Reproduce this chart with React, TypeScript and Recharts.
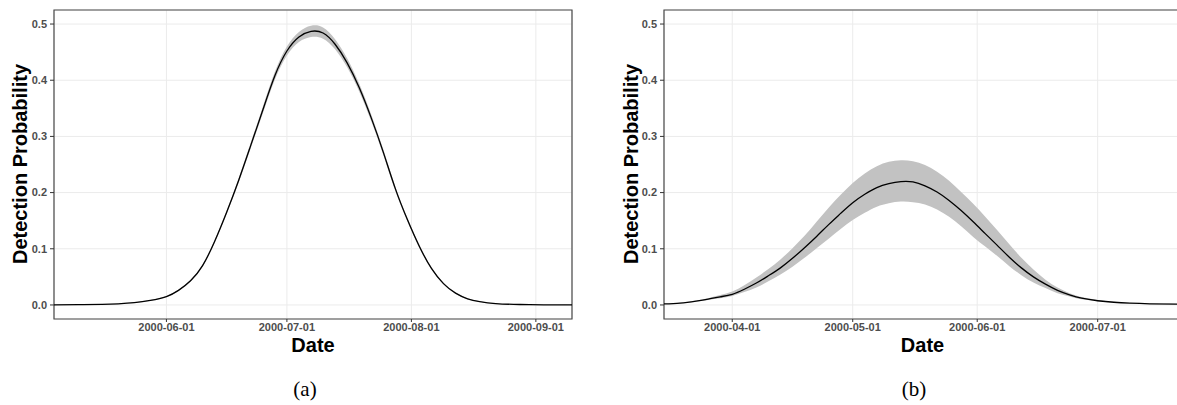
import {
  ComposedChart,
  Area,
  Line,
  XAxis,
  YAxis,
  CartesianGrid,
  ReferenceArea,
} from 'recharts'

// panel (a)
const LEFT_DATES = [
  '2000-05-04', '2000-05-10', '2000-05-16', '2000-05-20', '2000-05-24', '2000-05-28',
  '2000-06-01', '2000-06-04', '2000-06-07', '2000-06-10', '2000-06-13', '2000-06-16',
  '2000-06-19', '2000-06-22', '2000-06-25', '2000-06-28', '2000-07-01', '2000-07-04',
  '2000-07-07', '2000-07-10', '2000-07-13', '2000-07-16', '2000-07-19', '2000-07-22',
  '2000-07-25', '2000-07-28', '2000-07-31', '2000-08-03', '2000-08-06', '2000-08-09',
  '2000-08-12', '2000-08-15', '2000-08-18', '2000-08-22', '2000-08-28', '2000-09-03',
  '2000-09-10',
]
const LEFT_MEAN = [
  0.0, 0.0005, 0.001, 0.002, 0.004, 0.008,
  0.015, 0.026, 0.043, 0.07, 0.113, 0.165,
  0.222, 0.284, 0.347, 0.408, 0.452, 0.477,
  0.487, 0.484, 0.464, 0.431, 0.387, 0.333,
  0.272, 0.207, 0.152, 0.104, 0.065, 0.038,
  0.021, 0.011, 0.006, 0.0025, 0.0008, 0.0003,
  0.0,
]
const LEFT_LOWER = [
  0.0, 0.0005, 0.0008, 0.0017, 0.0036, 0.0074,
  0.0142, 0.025, 0.0415, 0.068, 0.1105, 0.162,
  0.218, 0.279, 0.341, 0.401, 0.444, 0.468,
  0.477, 0.474, 0.455, 0.423, 0.38, 0.327,
  0.267, 0.203, 0.149, 0.1015, 0.063, 0.0365,
  0.02, 0.0102, 0.0055, 0.0022, 0.0006, 0.0003,
  0.0,
]
const LEFT_UPPER = [
  0.0, 0.0005, 0.0012, 0.0023, 0.0044, 0.0086,
  0.0158, 0.027, 0.0445, 0.072, 0.1155, 0.168,
  0.226, 0.289, 0.353, 0.415, 0.46, 0.486,
  0.497, 0.494, 0.473, 0.439, 0.394, 0.339,
  0.277, 0.211, 0.155, 0.1065, 0.067, 0.0395,
  0.022, 0.0118, 0.0065, 0.0028, 0.001, 0.0003,
  0.0,
]
const LEFT_TICKS = ['2000-06-01', '2000-07-01', '2000-08-01', '2000-09-01']
const LEFT_RANGE = ['2000-05-04', '2000-09-10']

// panel (b)
const RIGHT_DATES = [
  '2000-03-15', '2000-03-19', '2000-03-23', '2000-03-26', '2000-03-29',
  '2000-04-01', '2000-04-04', '2000-04-07', '2000-04-10', '2000-04-13',
  '2000-04-16', '2000-04-19', '2000-04-22', '2000-04-25', '2000-04-28',
  '2000-05-01', '2000-05-04', '2000-05-07', '2000-05-10', '2000-05-13',
  '2000-05-16', '2000-05-19', '2000-05-22', '2000-05-25', '2000-05-28',
  '2000-05-31', '2000-06-03', '2000-06-06', '2000-06-09', '2000-06-12',
  '2000-06-15', '2000-06-18', '2000-06-21', '2000-06-24', '2000-06-27',
  '2000-07-01', '2000-07-05', '2000-07-09', '2000-07-14', '2000-07-22',
]
const RIGHT_MEAN = [
  0.0018, 0.0034, 0.007, 0.0105, 0.0145,
  0.019, 0.028, 0.039, 0.052, 0.066,
  0.083, 0.102, 0.122, 0.143, 0.163,
  0.182, 0.197, 0.209, 0.216, 0.2196,
  0.219, 0.212, 0.201, 0.186, 0.168,
  0.148, 0.127, 0.106, 0.085, 0.066,
  0.05, 0.037, 0.026, 0.018, 0.012,
  0.0075, 0.0048, 0.0032, 0.0021, 0.0014,
]
const RIGHT_LOWER = [
  0.0015, 0.003, 0.006, 0.009, 0.012,
  0.016, 0.023, 0.031, 0.042, 0.054,
  0.068, 0.084, 0.101, 0.118, 0.135,
  0.151, 0.164, 0.175, 0.181, 0.184,
  0.183, 0.179, 0.17, 0.157, 0.14,
  0.121, 0.104, 0.087, 0.069, 0.053,
  0.04, 0.03, 0.021, 0.015, 0.01,
  0.0065, 0.0043, 0.003, 0.002, 0.0013,
]
const RIGHT_UPPER = [
  0.002, 0.004, 0.008, 0.012, 0.0175,
  0.024, 0.035, 0.049, 0.064, 0.081,
  0.101, 0.123, 0.148, 0.173, 0.196,
  0.217, 0.234, 0.247, 0.255, 0.2576,
  0.256, 0.249, 0.237, 0.221, 0.201,
  0.18, 0.157, 0.133, 0.108, 0.084,
  0.063, 0.045, 0.031, 0.021, 0.014,
  0.0088, 0.0058, 0.0037, 0.0024, 0.0015,
]
const RIGHT_TICKS = ['2000-04-01', '2000-05-01', '2000-06-01', '2000-07-01']
const RIGHT_RANGE = ['2000-03-15', '2000-07-22']

const Y_TICKS = [0, 0.1, 0.2, 0.3, 0.4, 0.5]
const Y_RANGE = [-0.025, 0.525]

const SANS = '"Liberation Sans", Arial, sans-serif'
const TICK_STYLE = { fill: '#4d4d4d', fontSize: 11, fontWeight: 700, fontFamily: SANS }

const toT = (d: string) => Date.parse(d)
const fmtDate = (t: number) => new Date(t).toISOString().slice(0, 10)

interface PanelProps {
  dates: string[]
  mean: number[]
  lower: number[]
  upper: number[]
  ticks: string[]
  range: string[]
}

function Panel({ dates, mean, lower, upper, ticks, range }: PanelProps) {
  const data = dates.map((d, i) => ({
    t: toT(d),
    mean: mean[i],
    band: [lower[i], upper[i]],
  }))
  const x0 = toT(range[0])
  const x1 = toT(range[1])

  return (
    <ComposedChart
      width={580}
      height={360}
      data={data}
      margin={{ top: 10, right: 8, bottom: 0, left: 0 }}
    >
      <CartesianGrid stroke="#ebebeb" strokeWidth={1} />
      <XAxis
        dataKey="t"
        type="number"
        domain={[x0, x1]}
        allowDataOverflow
        ticks={ticks.map(toT)}
        tickFormatter={fmtDate}
        tick={TICK_STYLE}
        axisLine={false}
        tickLine={{ stroke: '#333' }}
        tickSize={3}
        tickMargin={1}
        height={41}
      />
      <YAxis
        type="number"
        domain={Y_RANGE}
        allowDataOverflow
        ticks={Y_TICKS}
        tickFormatter={(v: number) => v.toFixed(1)}
        tick={TICK_STYLE}
        axisLine={false}
        tickLine={{ stroke: '#333' }}
        tickSize={4}
        tickMargin={3}
        width={54}
      />
      <Area
        type="natural"
        dataKey="band"
        fill="#c2c2c2"
        fillOpacity={1}
        stroke="none"
        isAnimationActive={false}
      />
      <Line
        type="natural"
        dataKey="mean"
        stroke="#000"
        strokeWidth={1.3}
        dot={false}
        isAnimationActive={false}
      />
      <ReferenceArea
        x1={x0}
        x2={x1}
        y1={Y_RANGE[0]}
        y2={Y_RANGE[1]}
        fill="none"
        stroke="#4a4a4a"
        strokeWidth={1.2}
      />
    </ComposedChart>
  )
}

export default function App() {
  return (
    <div
      style={{
        position: 'absolute',
        left: 0,
        top: 0,
        width: 1177,
        height: 405,
        overflow: 'hidden',
        background: '#fff',
      }}
    >
      <div style={{ position: 'absolute', left: 0, top: 0 }}>
        <Panel
          dates={LEFT_DATES}
          mean={LEFT_MEAN}
          lower={LEFT_LOWER}
          upper={LEFT_UPPER}
          ticks={LEFT_TICKS}
          range={LEFT_RANGE}
        />
      </div>
      <div style={{ position: 'absolute', left: 610, top: 0 }}>
        <Panel
          dates={RIGHT_DATES}
          mean={RIGHT_MEAN}
          lower={RIGHT_LOWER}
          upper={RIGHT_UPPER}
          ticks={RIGHT_TICKS}
          range={RIGHT_RANGE}
        />
      </div>
      <svg
        width={1177}
        height={405}
        style={{ position: 'absolute', left: 0, top: 0, pointerEvents: 'none' }}
      >
        <g fontFamily={SANS} fontWeight={700} fontSize={20} fill="#000" textAnchor="middle">
          <text x={20} y={164} dominantBaseline="central" transform="rotate(-90 20 164)">
            Detection Probability
          </text>
          <text x={631} y={164} dominantBaseline="central" transform="rotate(-90 631 164)">
            Detection Probability
          </text>
          <text x={313} y={351.5}>Date</text>
          <text x={922.5} y={351.5}>Date</text>
        </g>
        <g fontFamily='"Liberation Serif", "DejaVu Serif", serif' fontSize={21} fill="#000" textAnchor="middle">
          <text x={305} y={396}>(a)</text>
          <text x={914} y={396}>(b)</text>
        </g>
      </svg>
    </div>
  )
}
